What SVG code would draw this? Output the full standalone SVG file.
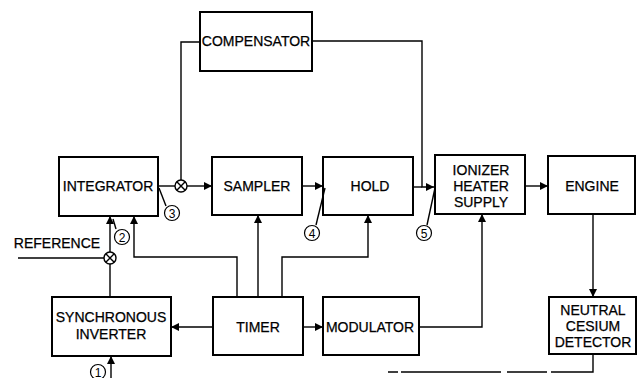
<svg xmlns="http://www.w3.org/2000/svg" width="643" height="378" viewBox="0 0 643 378">
<defs>
<marker id="ah" viewBox="0 0 10 10" refX="10" refY="5" markerWidth="8" markerHeight="8" markerUnits="userSpaceOnUse" orient="auto">
<path d="M0,0 L10,5 L0,10 z" fill="#000"/>
</marker>
<style>
.box{fill:#fff;stroke:#000;stroke-width:2}
.t{font-family:"Liberation Sans",Arial,sans-serif;font-size:14px;fill:#000;stroke:#000;stroke-width:0.25;text-anchor:middle}
.ln{fill:none;stroke:#000;stroke-width:1.4}
.arr{fill:none;stroke:#000;stroke-width:1.4;marker-end:url(#ah)}
.sum{fill:#fff;stroke:#000;stroke-width:1.4}
.num{font-family:"Liberation Sans",Arial,sans-serif;font-size:12px;fill:#000;text-anchor:middle}
.nc{fill:#fff;stroke:#000;stroke-width:1.2}
</style>
</defs>
<rect width="643" height="378" fill="#fff"/>

<g id="connectors">
<path class="ln" d="M200,42 H181 V180"/>
<path class="arr" d="M312,41 H422 V187 H434"/>
<path class="ln" d="M158,186 H175"/>
<path class="arr" d="M187,186 H212"/>
<path class="arr" d="M302,186 H323"/>
<path class="ln" d="M413,187 H422"/>
<path class="arr" d="M525,186 H548"/>
<path class="arr" d="M593,214 V297"/>
<path class="ln" d="M593,354 V372 H388" stroke-dasharray="60,4,40,6,100,3"/>
<path class="arr" d="M110,252 V216"/>
<path class="ln" d="M18,258 H104"/>
<path class="ln" d="M110,264 V297"/>
<path class="arr" d="M237,297 V257 H134 V216"/>
<path class="arr" d="M258,297 V215"/>
<path class="arr" d="M282,297 V257 H368 V215"/>
<path class="arr" d="M213,327 H171"/>
<path class="arr" d="M303,327 H323"/>
<path class="arr" d="M419,327 H482 V214"/>
<path class="arr" d="M111,378 V356"/>
<circle class="sum" cx="181" cy="186" r="6"/>
<path class="ln" d="M176.8,181.8 L185.2,190.2 M185.2,181.8 L176.8,190.2"/>
<circle class="sum" cx="110" cy="258" r="6"/>
<path class="ln" d="M105.8,253.8 L114.2,262.2 M114.2,253.8 L105.8,262.2"/>
</g>

<g id="compensator"><rect class="box" x="200" y="12" width="112" height="59"/><text class="t" x="256" y="46">COMPENSATOR</text></g>
<g id="integrator"><rect class="box" x="59" y="157" width="99" height="59"/><text class="t" x="108" y="191">INTEGRATOR</text></g>
<g id="sampler"><rect class="box" x="212" y="157" width="90" height="58"/><text class="t" x="257" y="191">SAMPLER</text></g>
<g id="hold"><rect class="box" x="323" y="157" width="90" height="58"/><text class="t" x="370" y="191">HOLD</text></g>
<g id="ionizer"><rect class="box" x="435" y="155" width="90" height="59"/><text class="t" x="481" y="175">IONIZER</text><text class="t" x="481" y="191">HEATER</text><text class="t" x="481" y="207">SUPPLY</text></g>
<g id="engine"><rect class="box" x="548" y="156" width="87" height="58"/><text class="t" x="592" y="191">ENGINE</text></g>
<g id="detector"><rect class="box" x="549" y="297" width="87" height="57"/><text class="t" x="593" y="315">NEUTRAL</text><text class="t" x="593" y="331">CESIUM</text><text class="t" x="593" y="347">DETECTOR</text></g>
<g id="synchronous-inverter"><rect class="box" x="52" y="297" width="119" height="59"/><text class="t" x="111" y="322">SYNCHRONOUS</text><text class="t" x="111" y="339">INVERTER</text></g>
<g id="timer"><rect class="box" x="213" y="297" width="90" height="58"/><text class="t" x="258" y="332">TIMER</text></g>
<g id="modulator"><rect class="box" x="323" y="297" width="96" height="58"/><text class="t" x="370" y="332">MODULATOR</text></g>
<g id="reference"><text class="t" x="57" y="248">REFERENCE</text></g>

<g id="labels">
<path class="ln" d="M159,188 L166,206"/>
<circle class="nc" cx="172" cy="213" r="7.5"/><text class="num" x="172" y="217.5">3</text>
<path class="ln" d="M113,219 L116,229"/>
<circle class="nc" cx="122" cy="237" r="7.5"/><text class="num" x="122" y="241.5">2</text>
<path class="ln" d="M325,188 L316,225"/>
<circle class="nc" cx="312" cy="233" r="7.5"/><text class="num" x="312" y="237.5">4</text>
<path class="ln" d="M435,188 L427,225"/>
<circle class="nc" cx="424" cy="233" r="7.5"/><text class="num" x="424" y="237.5">5</text>
<circle class="nc" cx="98" cy="372" r="7.5"/><text class="num" x="98" y="376.5">1</text>
</g>
</svg>
